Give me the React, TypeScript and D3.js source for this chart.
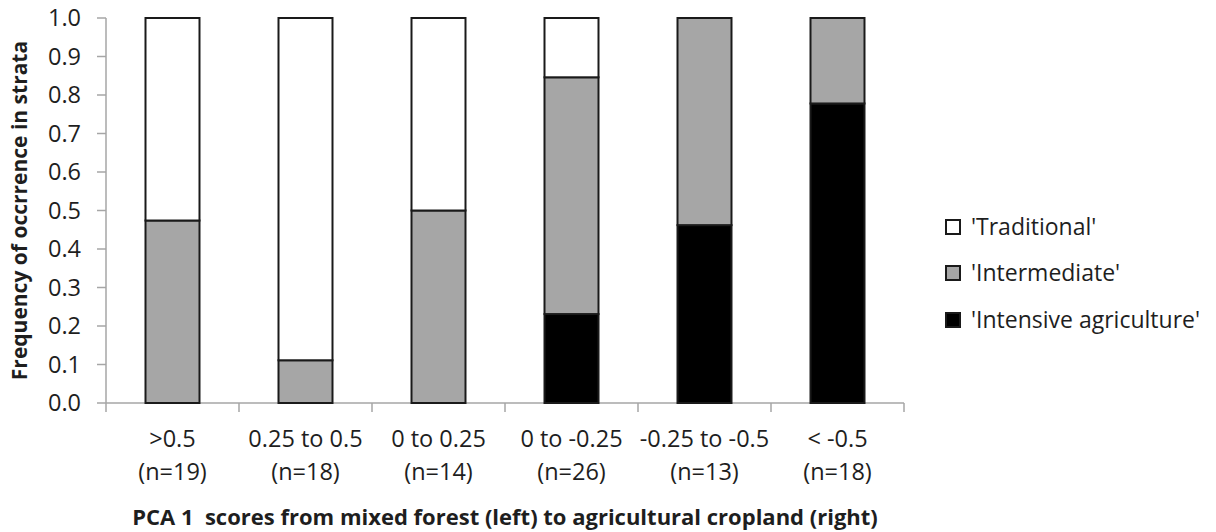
import React, { useEffect, useRef } from "react";
import * as d3 from "d3";

const categories = [">0.5", "0.25 to 0.5", "0 to 0.25", "0 to -0.25", "-0.25 to -0.5", "< -0.5"];
const sampleSizes = ["(n=19)", "(n=18)", "(n=14)", "(n=26)", "(n=13)", "(n=18)"];
const seriesNames = ["'Intensive agriculture'", "'Intermediate'", "'Traditional'"];
const intensive = [0, 0, 0, 0.231, 0.462, 0.778];
const intermediate = [0.474, 0.111, 0.5, 0.615, 0.538, 0.222];
const traditional = [0.526, 0.889, 0.5, 0.154, 0, 0];
const yTicks = [0, 0.1, 0.2, 0.3, 0.4, 0.5, 0.6, 0.7, 0.8, 0.9, 1.0];
const colors = ["#000000", "#a6a6a6", "#ffffff"];

const W = 1216;
const H = 532;
const FONT = "'Open Sans', sans-serif";

export default function App() {
  const ref = useRef<SVGSVGElement>(null);

  useEffect(() => {
    const svg = d3.select(ref.current);
    svg.selectAll("*").remove();

    const left = 106, right = 904, top = 18, bottom = 403;
    const x = d3.scaleBand<string>().domain(categories).range([left, right]).paddingInner(0.594).paddingOuter(0.297);
    const y = d3.scaleLinear().domain([0, 1]).range([bottom, top]);

    const rows = categories.map((c, i) => ({
      cat: c,
      [seriesNames[0]]: intensive[i],
      [seriesNames[1]]: intermediate[i],
      [seriesNames[2]]: traditional[i],
    }));
    const stacked = d3.stack<any>().keys(seriesNames)(rows);

    const axisColor = "#a6a6a6";
    const textColor = "#1e1e1e";

    // y axis
    svg.append("line").attr("x1", left).attr("x2", left).attr("y1", y(1)).attr("y2", y(0))
      .attr("stroke", axisColor).attr("stroke-width", 1.5);
    yTicks.forEach((t) => {
      svg.append("line").attr("x1", left - 9).attr("x2", left).attr("y1", y(t)).attr("y2", y(t))
        .attr("stroke", axisColor).attr("stroke-width", 1.5);
      svg.append("text").attr("x", 81).attr("y", y(t)).attr("dy", "0.36em")
        .attr("text-anchor", "end").attr("font-family", FONT).attr("font-size", 23.5).attr("fill", textColor)
        .text(d3.format(".1f")(t));
    });

    // x axis
    svg.append("line").attr("x1", left).attr("x2", right).attr("y1", y(0)).attr("y2", y(0))
      .attr("stroke", axisColor).attr("stroke-width", 1.5);
    const step = x.step();
    const gap = (step - x.bandwidth()) / 2;
    categories.forEach((c) => {
      const b0 = (x(c) as number) - gap;
      svg.append("line").attr("x1", b0).attr("x2", b0).attr("y1", y(0)).attr("y2", y(0) + 9)
        .attr("stroke", axisColor).attr("stroke-width", 1.5);
    });
    svg.append("line").attr("x1", right).attr("x2", right).attr("y1", y(0)).attr("y2", y(0) + 9)
      .attr("stroke", axisColor).attr("stroke-width", 1.5);

    categories.forEach((c, i) => {
      const cx = (x(c) as number) + x.bandwidth() / 2;
      svg.append("text").attr("x", cx).attr("y", 447).attr("text-anchor", "middle")
        .attr("font-family", FONT).attr("font-size", 23.5).attr("fill", textColor).text(c);
      svg.append("text").attr("x", cx).attr("y", 480).attr("text-anchor", "middle")
        .attr("font-family", FONT).attr("font-size", 23.5).attr("fill", textColor).text(sampleSizes[i]);
    });

    // bars
    stacked.forEach((s, si) => {
      s.forEach((d: any) => {
        const h = y(d[0]) - y(d[1]);
        if (h <= 0.01) return;
        svg.append("rect")
          .attr("x", x(d.data.cat) as number)
          .attr("y", y(d[1]))
          .attr("width", x.bandwidth())
          .attr("height", h)
          .attr("fill", colors[si])
          .attr("stroke", "#1a1a1a")
          .attr("stroke-width", 2);
      });
    });

    // axis titles
    svg.append("text")
      .attr("transform", `translate(27,${(top + bottom) / 2}) rotate(-90)`)
      .attr("text-anchor", "middle").attr("font-family", FONT).attr("font-weight", "bold")
      .attr("font-size", 21).attr("fill", textColor)
      .text("Frequency of occrrence in strata");

    svg.append("text")
      .attr("x", (left + right) / 2).attr("y", 525).attr("text-anchor", "middle")
      .attr("font-family", FONT).attr("font-weight", "bold").attr("font-size", 22).attr("fill", textColor)
      .style("white-space", "pre")
      .text("PCA 1  scores from mixed forest (left) to agricultural cropland (right)");

    // legend (top to bottom: Traditional, Intermediate, Intensive)
    const legendOrder = [2, 1, 0];
    const legendY = [227, 273, 320];
    legendOrder.forEach((si, k) => {
      svg.append("rect").attr("x", 946).attr("y", legendY[k] - 7).attr("width", 14).attr("height", 14)
        .attr("fill", colors[si]).attr("stroke", "#1a1a1a").attr("stroke-width", 2);
      svg.append("text").attr("x", 971).attr("y", legendY[k]).attr("dy", "0.36em")
        .attr("font-family", FONT).attr("font-size", 23).attr("fill", textColor).text(seriesNames[si]);
    });
  }, []);

  return (
    <svg ref={ref} width={W} height={H}
      style={{ position: "absolute", left: 0, top: 0, background: "#fff", display: "block" }} />
  );
}
